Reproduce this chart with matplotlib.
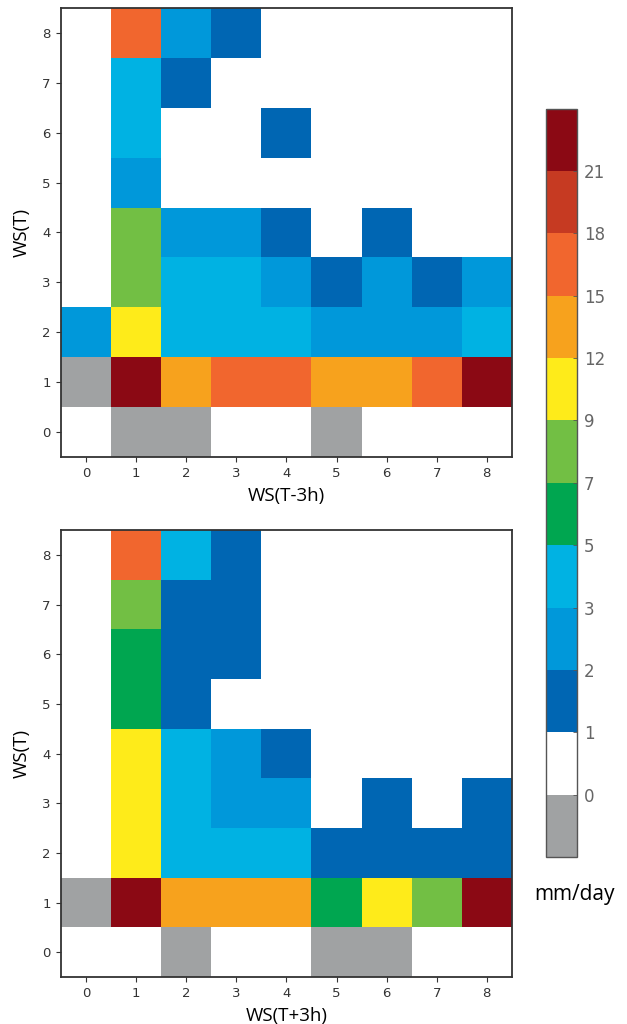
import numpy as np
import matplotlib
matplotlib.use("Agg")
import matplotlib.pyplot as plt
from matplotlib.colors import ListedColormap, BoundaryNorm

# Wind-speed classes on both axes
ws_classes = [0, 1, 2, 3, 4, 5, 6, 7, 8]

# Colour class boundaries (mm/day); below 0 = no data
bounds = [-1, 0, 1, 2, 3, 5, 7, 9, 12, 15, 18, 21, 24]
cbar_ticks = [0, 1, 2, 3, 5, 7, 9, 12, 15, 18, 21]
colors = ["#A0A2A3", "#FFFFFF", "#0066B3", "#0098DA", "#00B2E3", "#00A650",
          "#72BF44", "#FEEB1A", "#F7A21D", "#F1662E", "#C63A22", "#8B0914"]

# Mean rain rate, rows listed from WS(T)=8 down to WS(T)=0, columns WS=0..8
rain_prev = [
    [0.5, 16.5, 2.5, 1.5, 0.5, 0.5, 0.5, 0.5, 0.5],
    [0.5, 4.0, 1.5, 0.5, 0.5, 0.5, 0.5, 0.5, 0.5],
    [0.5, 4.0, 0.5, 0.5, 1.5, 0.5, 0.5, 0.5, 0.5],
    [0.5, 2.5, 0.5, 0.5, 0.5, 0.5, 0.5, 0.5, 0.5],
    [0.5, 8.0, 2.5, 2.5, 1.5, 0.5, 1.5, 0.5, 0.5],
    [0.5, 8.0, 4.0, 4.0, 2.5, 1.5, 2.5, 1.5, 2.5],
    [2.5, 10.5, 4.0, 4.0, 4.0, 2.5, 2.5, 2.5, 4.0],
    [-0.5, 22.5, 13.5, 16.5, 16.5, 13.5, 13.5, 16.5, 22.5],
    [0.5, -0.5, -0.5, 0.5, 0.5, -0.5, 0.5, 0.5, 0.5],
]

rain_next = [
    [0.5, 16.5, 4.0, 1.5, 0.5, 0.5, 0.5, 0.5, 0.5],
    [0.5, 8.0, 1.5, 1.5, 0.5, 0.5, 0.5, 0.5, 0.5],
    [0.5, 6.0, 1.5, 1.5, 0.5, 0.5, 0.5, 0.5, 0.5],
    [0.5, 6.0, 1.5, 0.5, 0.5, 0.5, 0.5, 0.5, 0.5],
    [0.5, 10.5, 4.0, 2.5, 1.5, 0.5, 0.5, 0.5, 0.5],
    [0.5, 10.5, 4.0, 2.5, 2.5, 0.5, 1.5, 0.5, 1.5],
    [0.5, 10.5, 4.0, 4.0, 4.0, 1.5, 1.5, 1.5, 1.5],
    [-0.5, 22.5, 13.5, 13.5, 13.5, 6.0, 10.5, 8.0, 22.5],
    [0.5, 0.5, -0.5, 0.5, 0.5, -0.5, -0.5, 0.5, 0.5],
]

xlabels = ["WS(T-3h)", "WS(T+3h)"]
ylabel = "WS(T)"
unit_label = "mm/day"

cmap = ListedColormap(colors)
norm = BoundaryNorm(bounds, cmap.N)

fig = plt.figure(figsize=(6.27, 10.24), dpi=100)
ax_top = fig.add_axes([0.0973, 0.5537, 0.719, 0.4385])
ax_bot = fig.add_axes([0.0973, 0.0459, 0.719, 0.4365])

tick_kw = dict(labelsize=9.5, labelcolor="#333333", length=3.5,
               width=0.8, color="#333333", pad=4)

for ax, grid, xl in zip([ax_top, ax_bot], [rain_prev, rain_next], xlabels):
    data = np.array(grid)[::-1]
    edges = np.arange(len(ws_classes) + 1) - 0.5
    mesh = ax.pcolormesh(edges, edges, data, cmap=cmap, norm=norm)
    ax.set_xticks(ws_classes)
    ax.set_yticks(ws_classes)
    ax.set_xlim(-0.5, 8.5)
    ax.set_ylim(-0.5, 8.5)
    ax.tick_params(**tick_kw)
    for sp in ax.spines.values():
        sp.set_linewidth(1.3)
        sp.set_color("#333333")
    ax.set_xlabel(xl, fontsize=13.5, family="Open Sans", labelpad=5)
    ax.set_ylabel(ylabel, fontsize=13.5, family="Open Sans", labelpad=8)

cax = fig.add_axes([0.871, 0.163, 0.049, 0.731])
cb = fig.colorbar(mesh, cax=cax, boundaries=bounds, spacing="uniform",
                  ticks=cbar_ticks)
cb.minorticks_off()
cb.outline.set_linewidth(1.0)
cb.outline.set_edgecolor("#555555")
cax.tick_params(labelsize=12, labelcolor="#666666", length=3, width=0.6,
                color="#555555", direction="in", pad=5)
fig.text(0.917, 0.126, unit_label, fontsize=15, family="Open Sans",
         ha="center", va="center")

fig.savefig("out.png", dpi=100)
